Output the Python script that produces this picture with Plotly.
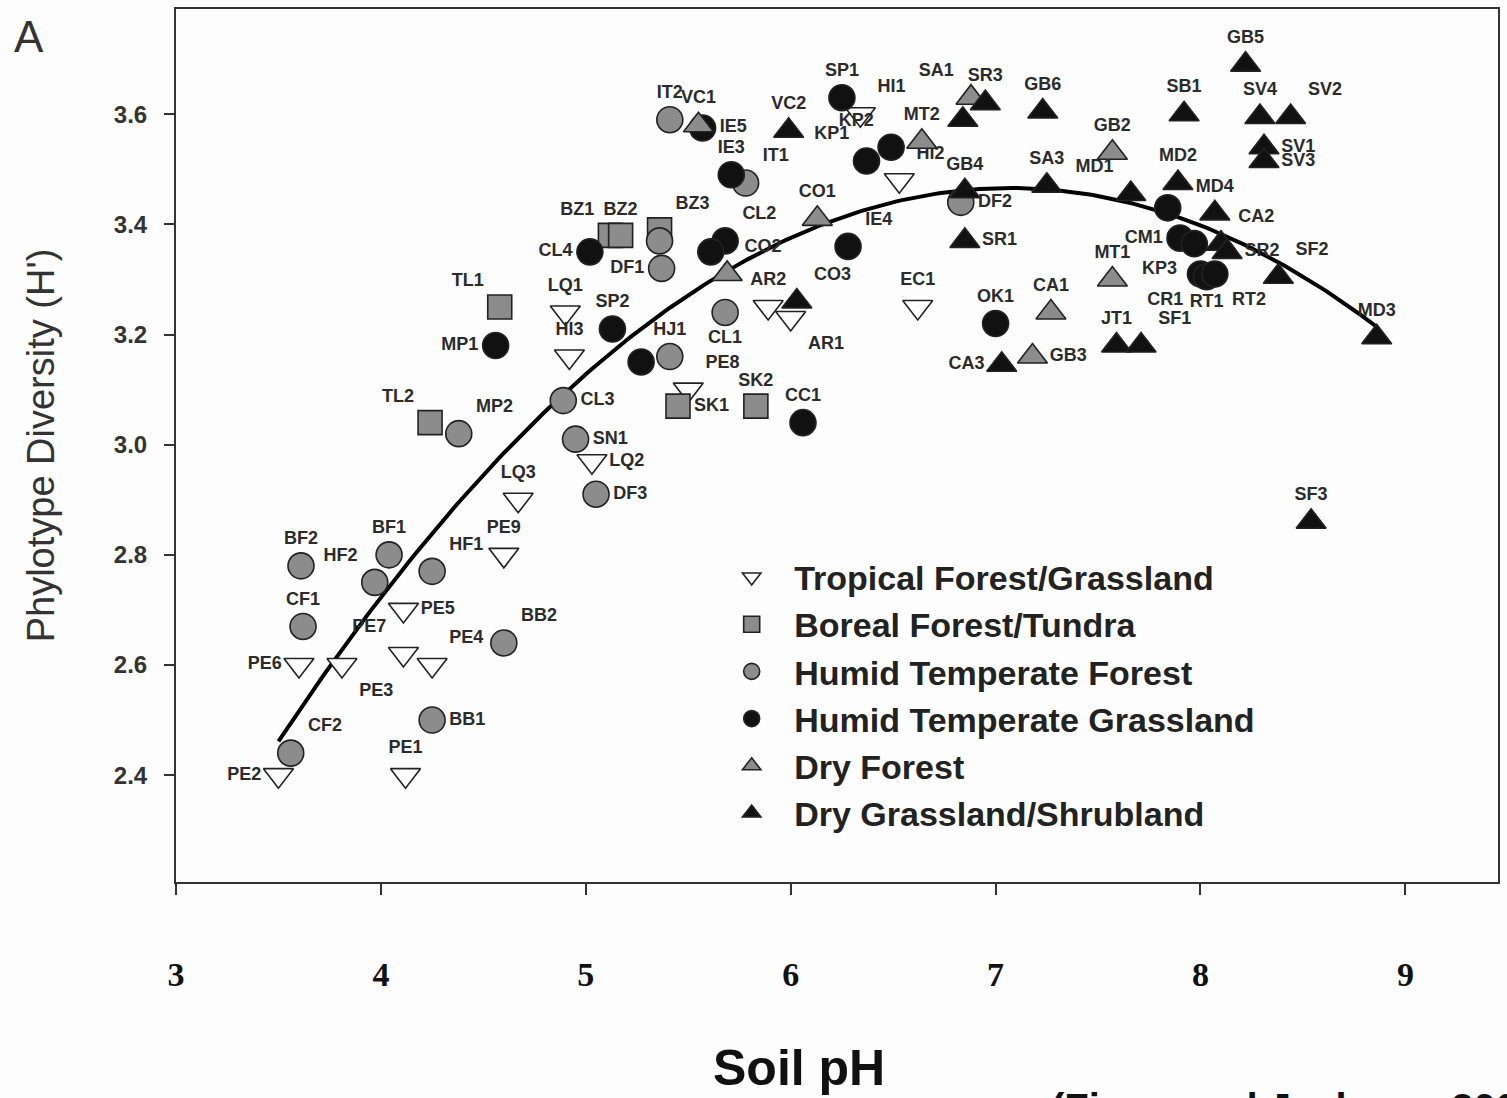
import numpy as np
import plotly.graph_objects as go

# ---------------- data ----------------
trop_names = ["PE2", "PE1", "PE6", "PE3", "PE7", "PE4", "PE5", "PE9", "LQ3", "LQ2",
              "HI3", "LQ1", "PE8", "AR2", "AR1", "EC1", "HI2", "HI1"]
trop_ph = [3.50, 4.12, 3.60, 3.81, 4.11, 4.25, 4.11, 4.60, 4.67, 5.03,
           4.92, 4.90, 5.50, 5.89, 6.00, 6.62, 6.53, 6.34]
trop_h = [2.40, 2.40, 2.60, 2.60, 2.62, 2.60, 2.70, 2.80, 2.90, 2.97,
          3.16, 3.24, 3.10, 3.25, 3.23, 3.25, 3.48, 3.60]

bor_names = ["BZ1", "BZ2", "BZ3", "TL1", "TL2", "SK1", "SK2"]
bor_ph = [5.12, 5.17, 5.36, 4.58, 4.24, 5.45, 5.83]
bor_h = [3.38, 3.38, 3.39, 3.25, 3.04, 3.07, 3.07]

htf_names = ["CF2", "CF1", "BF2", "BF1", "HF2", "HF1", "BB2", "BB1", "MP2", "CL3",
             "SN1", "DF3", "HJ1", "CL1", "DF1", "IT2", "IT1", "DF2", ""]
htf_ph = [3.56, 3.62, 3.61, 4.04, 3.97, 4.25, 4.60, 4.25, 4.38, 4.89,
          4.95, 5.05, 5.41, 5.68, 5.37, 5.41, 5.78, 6.83, 5.36]
htf_h = [2.44, 2.67, 2.78, 2.80, 2.75, 2.77, 2.64, 2.50, 3.02, 3.08,
         3.01, 2.91, 3.16, 3.24, 3.32, 3.59, 3.475, 3.44, 3.37]

htg_names = ["MP1", "CL4", "SP2", "", "CL2", "", "IE3", "IE5", "IE4", "SP1",
             "KP1", "KP2", "CC1", "OK1", "", "CM1", "KP3", "CR1", "RT1", "RT2"]
htg_ph = [4.56, 5.02, 5.13, 5.27, 5.68, 5.61, 5.71, 5.57, 6.28, 6.25,
          6.37, 6.49, 6.06, 7.00, 7.84, 7.90, 7.97, 8.00, 8.03, 8.07]
htg_h = [3.18, 3.35, 3.21, 3.15, 3.37, 3.35, 3.49, 3.575, 3.36, 3.63,
         3.515, 3.54, 3.04, 3.22, 3.43, 3.375, 3.365, 3.31, 3.305, 3.31]

dfo_names = ["VC1", "CO2", "CO1", "MT2", "SA1", "GB2", "MT1", "CA1", "GB3"]
dfo_ph = [5.55, 5.69, 6.13, 6.64, 6.88, 7.57, 7.57, 7.27, 7.18]
dfo_h = [3.58, 3.31, 3.41, 3.55, 3.63, 3.53, 3.30, 3.24, 3.16]

dgs_names = ["VC2", "CO3", "GB4", "SR1", "SR3", "", "GB6", "SA3", "MD1", "MD2",
             "SB1", "GB5", "SV4", "SV2", "SV1", "SV3", "MD4", "CA2", "SR2", "SF2",
             "MD3", "JT1", "SF1", "CA3", "SF3"]
dgs_ph = [5.99, 6.03, 6.85, 6.85, 6.95, 6.84, 7.23, 7.25, 7.66, 7.89,
          7.92, 8.22, 8.29, 8.44, 8.31, 8.31, 8.07, 8.10, 8.13, 8.38,
          8.86, 7.59, 7.71, 7.03, 8.54]
dgs_h = [3.57, 3.26, 3.46, 3.37, 3.62, 3.59, 3.605, 3.47, 3.455, 3.475,
         3.60, 3.69, 3.595, 3.595, 3.54, 3.515, 3.42, 3.365, 3.35, 3.305,
         3.195, 3.18, 3.18, 3.145, 2.86]

group_names = ["Tropical Forest/Grassland", "Boreal Forest/Tundra", "Humid Temperate Forest",
               "Humid Temperate Grassland", "Dry Forest", "Dry Grassland/Shrubland"]
x_ticks = [3, 4, 5, 6, 7, 8, 9]
y_ticks = [2.4, 2.6, 2.8, 3.0, 3.2, 3.4, 3.6]

# ---------------- styles ----------------
label_pos = {
    "PE2": "middle left", "PE1": "top center", "PE6": "middle left", "PE3": "bottom right",
    "PE7": "top left", "PE4": "top right", "PE5": "middle right", "PE9": "top center",
    "LQ3": "top center", "LQ2": "middle right", "HI3": "top center", "LQ1": "top center",
    "PE8": "top right", "AR2": "top center", "AR1": "bottom right", "EC1": "top center",
    "HI2": "top right", "HI1": "top right",
    "BZ1": "top left", "BZ2": "top center", "BZ3": "top right", "TL1": "top left",
    "TL2": "top left", "SK1": "middle right", "SK2": "top center",
    "CF2": "top right", "CF1": "top center", "BF2": "top center", "BF1": "top center",
    "HF2": "top left", "HF1": "top right", "BB2": "top right", "BB1": "middle right",
    "MP2": "top right", "CL3": "middle right", "SN1": "middle right", "DF3": "middle right",
    "HJ1": "top center", "CL1": "bottom center", "DF1": "middle left", "IT2": "top center",
    "IT1": "top right", "DF2": "middle right",
    "MP1": "middle left", "CL4": "middle left", "SP2": "top center", "CL2": "top right",
    "IE3": "top center", "IE5": "middle right", "IE4": "top right", "SP1": "top center",
    "KP1": "top left", "KP2": "top left", "CC1": "top center", "OK1": "top center",
    "CM1": "middle left", "KP3": "bottom left", "CR1": "bottom left", "RT1": "bottom center",
    "RT2": "bottom right",
    "VC1": "top center", "CO2": "top right", "CO1": "top center", "MT2": "top center",
    "SA1": "top left", "GB2": "top center", "MT1": "top center", "CA1": "top center",
    "GB3": "middle right",
    "VC2": "top center", "CO3": "top right", "GB4": "top center", "SR1": "middle right",
    "SR3": "top center", "GB6": "top center", "SA3": "top center", "MD1": "top left",
    "MD2": "top center", "SB1": "top center", "GB5": "top center", "SV4": "top center",
    "SV2": "top right", "SV1": "middle right", "SV3": "middle right", "MD4": "top center",
    "CA2": "top right", "SR2": "middle right", "SF2": "top right", "MD3": "top center",
    "JT1": "top center", "SF1": "top right", "CA3": "middle left", "SF3": "top center",
}

GRAY = "#8c8c8c"
BLACK = "#111111"
EDGE = "#222222"
SANS = "Liberation Sans, Arial, sans-serif"
LABEL_FONT = dict(family=SANS, size=18, color="#2b2b2b", weight="bold")

groups = [
    (trop_names, trop_ph, trop_h, "triangle-down", "white"),
    (bor_names, bor_ph, bor_h, "square", GRAY),
    (htf_names, htf_ph, htf_h, "circle", GRAY),
    (htg_names, htg_ph, htg_h, "circle", BLACK),
    (dfo_names, dfo_ph, dfo_h, "triangle-up", GRAY),
    (dgs_names, dgs_ph, dgs_h, "triangle-up", BLACK),
]

fig = go.Figure()

# quadratic regression of diversity on pH (all sites)
all_ph = np.array(trop_ph + bor_ph + htf_ph + htg_ph + dfo_ph + dgs_ph)
all_h = np.array(trop_h + bor_h + htf_h + htg_h + dfo_h + dgs_h)
coef = np.polyfit(all_ph, all_h, 2)
xs = np.linspace(all_ph.min(), all_ph.max(), 200)
fig.add_trace(go.Scatter(x=xs, y=np.polyval(coef, xs), mode="lines",
                         line=dict(color="black", width=4), showlegend=False,
                         hoverinfo="skip"))

for (names, ph, h, sym, fill), gname in zip(groups, group_names):
    size = 26 if sym != "square" else 24
    fig.add_trace(go.Scatter(
        x=ph, y=h, mode="markers+text", name=gname,
        text=names, textposition=[label_pos.get(n, "top center") for n in names],
        textfont=LABEL_FONT,
        marker=dict(symbol=sym, size=size, color=fill,
                    line=dict(color=EDGE, width=1.6)),
    ))

L, R, T, B = 176, 7, 8, 216
PW = 1507 - L - R
PH = 1098 - T - B


def px_x(p):
    return (p - L) / PW


def px_y(p):
    return (1098 - B - p) / PH


fig.update_layout(
    width=1507, height=1098,
    margin=dict(l=L, r=R, t=T, b=B),
    paper_bgcolor="#fdfdfd", plot_bgcolor="#fdfdfd",
    showlegend=True,
    legend=dict(x=px_x(710), y=px_y(548), xanchor="left", yanchor="top",
                bgcolor="rgba(0,0,0,0)",
                font=dict(family=SANS, size=34, color="#222222", weight="bold"),
                itemsizing="trace", itemwidth=75, tracegroupgap=0),
    xaxis=dict(range=[3, 9.452], tickvals=x_ticks, ticktext=[str(v) for v in x_ticks],
               showgrid=False, zeroline=False, showline=True, linecolor="#333333",
               linewidth=2, mirror=True, ticks="outside", ticklen=11, tickwidth=1.5,
               tickcolor="#333333", ticklabelstandoff=50,
               tickfont=dict(family="Liberation Serif, Times New Roman, serif", size=34,
                             color="#111111", weight="bold")),
    yaxis=dict(range=[2.206, 3.791], tickvals=y_ticks,
               ticktext=[f"{v:.1f}" for v in y_ticks],
               showgrid=False, zeroline=False, showline=True, linecolor="#333333",
               linewidth=2, mirror=True, ticks="outside", ticklen=10, tickwidth=1.5,
               tickcolor="#333333", ticklabelstandoff=12,
               tickfont=dict(family=SANS, size=24, color="#333333", weight="bold"),
               title=dict(text="Phylotype Diversity (H')", standoff=48,
                          font=dict(family=SANS, size=38, color="#333333"))),
    annotations=[
        dict(text="A", x=px_x(12), y=px_y(36), xref="paper", yref="paper", showarrow=False,
             xanchor="left", yanchor="middle",
             font=dict(family=SANS, size=44, color="#333333")),
        dict(text="Soil pH", x=px_x(800), y=px_y(1068), xref="paper",
             yref="paper", showarrow=False, xanchor="center", yanchor="middle",
             font=dict(family=SANS, size=50, color="#111111", weight="bold")),
        dict(text="(Fierer and Jackson, 2006)", x=px_x(1050), y=px_y(1084),
             xref="paper", yref="paper",
             showarrow=False, xanchor="left", yanchor="top",
             font=dict(family=SANS, size=40, color="#111111", weight="bold")),
    ],
)

fig.write_html("out.html")
